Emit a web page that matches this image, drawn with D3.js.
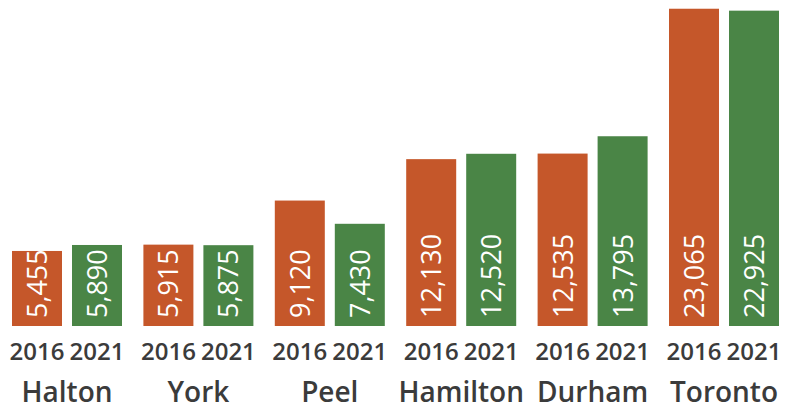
<!DOCTYPE html>
<html>
<head>
<meta charset="utf-8">
<script src="https://cdn.jsdelivr.net/npm/d3@7"></script>
<style>
  body { margin: 0; background: #fff; }
  svg { display: block; }
</style>
</head>
<body>
<div id="chart"></div>
<script>
const regions = ['Halton', 'York', 'Peel', 'Hamilton', 'Durham', 'Toronto'];
const years = ['2016', '2021'];
const values2016 = [5455, 5915, 9120, 12130, 12535, 23065];
const values2021 = [5890, 5875, 7430, 12520, 13795, 22925];
const colors = ['#c5572a', '#4a8546'];

const width = 793, height = 410;
const baseline = 326;

const svg = d3.select('#chart')
  .append('svg')
  .attr('width', width)
  .attr('height', height);

// groups: 110px wide, 131.4px step
const x0 = d3.scaleBand()
  .domain(regions)
  .range([12, 779])
  .paddingInner(21.4 / 131.4)
  .paddingOuter(0);

const x1 = d3.scaleBand()
  .domain(years)
  .range([0, x0.bandwidth()])
  .paddingInner(10 / 60);

const y = d3.scaleLinear()
  .domain([0, 23700])
  .range([baseline, 0]);

const data = regions.map((r, i) => ({
  region: r,
  vals: [values2016[i], values2021[i]]
}));

const fmt = d3.format(',');

const g = svg.selectAll('g.group')
  .data(data)
  .join('g')
  .attr('class', 'group')
  .attr('transform', d => `translate(${x0(d.region)},0)`);

const bars = g.selectAll('g.bar')
  .data(d => d.vals.map((v, j) => ({ year: years[j], v, j })))
  .join('g')
  .attr('class', 'bar');

bars.append('rect')
  .attr('x', d => x1(d.year))
  .attr('y', d => y(d.v))
  .attr('width', x1.bandwidth())
  .attr('height', d => baseline - y(d.v))
  .attr('fill', d => colors[d.j]);

// value labels, rotated, sitting near the bar base
bars.append('text')
  .attr('transform', d => `translate(${x1(d.year) + x1.bandwidth() / 2 + 10},${baseline - 8}) rotate(-90)`)
  .attr('fill', '#fff')
  .attr('font-family', 'Open Sans, sans-serif')
  .attr('font-size', 27)
  .attr('font-weight', 400)
  .text(d => fmt(d.v));

bars.append('text')
  .attr('x', d => x1(d.year) + x1.bandwidth() / 2)
  .attr('y', 360)
  .attr('text-anchor', 'middle')
  .attr('fill', '#3b3b3b')
  .attr('font-family', 'Open Sans, sans-serif')
  .attr('font-size', 24)
  .attr('font-weight', 600)
  .text(d => d.year);

g.append('text')
  .attr('x', x0.bandwidth() / 2)
  .attr('y', 402)
  .attr('text-anchor', 'middle')
  .attr('fill', '#3b3b3b')
  .attr('font-family', 'Open Sans, sans-serif')
  .attr('font-size', 28)
  .attr('font-weight', 600)
  .text(d => d.region);
</script>
</body>
</html>
